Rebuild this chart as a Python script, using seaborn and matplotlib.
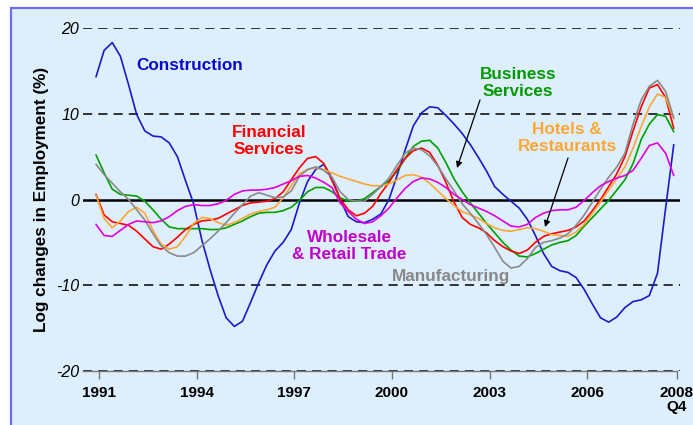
import numpy as np
import pandas as pd
import matplotlib
matplotlib.use("Agg")
import matplotlib.pyplot as plt
from matplotlib.patches import Rectangle
import seaborn as sns

# ---- data (quarterly, 1991Q1 .. 2008Q4) ----
start_year = 1991
construction = [14.3, 17.4, 18.3, 16.7, 13.4, 9.9, 8.0, 7.4, 7.3, 6.6, 5.0, 2.2,
                -0.5, -4.7, -8.1, -11.2, -13.8, -14.8, -14.2, -12.0, -9.7, -7.6, -6.0, -5.0,
                -3.5, -0.4, 2.1, 3.5, 4.1, 2.5, 0.0, -2.0, -2.6, -2.7, -2.3, -1.7,
                0.0, 2.8, 5.8, 8.6, 10.1, 10.8, 10.7, 9.8, 8.8, 7.7, 6.4, 4.9,
                3.3, 1.5, 0.6, -0.2, -1.0, -2.3, -4.2, -6.3, -7.8, -8.3, -8.5, -9.1,
                -10.5, -12.2, -13.8, -14.3, -13.7, -12.6, -11.9, -11.7, -11.2, -8.6, -1.0, 6.4]
business = [5.2, 3.1, 1.2, 0.6, 0.5, 0.4, -0.2, -1.2, -2.3, -3.2, -3.4, -3.4,
            -3.4, -3.4, -3.5, -3.5, -3.3, -2.9, -2.5, -2.0, -1.6, -1.5, -1.5, -1.3,
            -0.9, -0.1, 0.9, 1.4, 1.4, 0.9, 0.2, -0.2, -0.2, 0.1, 0.8, 1.5,
            2.2, 3.3, 4.8, 6.2, 6.8, 6.9, 6.0, 4.3, 2.4, 0.9, -0.4, -1.6,
            -2.8, -3.9, -5.0, -5.9, -6.6, -6.7, -6.3, -5.8, -5.3, -5.0, -4.8, -4.2,
            -3.1, -2.1, -1.1, -0.1, 1.1, 2.3, 4.2, 7.0, 8.8, 9.9, 9.7, 7.9]
financial = [0.6, -1.8, -2.6, -2.8, -3.0, -3.7, -4.6, -5.5, -5.8, -5.2, -4.4, -3.5,
             -2.9, -2.5, -2.4, -2.2, -1.7, -1.2, -0.7, -0.4, -0.3, -0.2, 0.1, 0.9,
             2.3, 3.7, 4.8, 5.0, 4.2, 2.2, 0.1, -1.2, -1.9, -1.6, -0.8, 0.7,
             2.0, 3.5, 4.8, 5.7, 6.0, 5.5, 4.0, 2.0, -0.3, -2.1, -2.9, -3.3,
             -3.9, -4.8, -5.5, -6.0, -6.3, -5.9, -5.0, -4.3, -4.0, -3.8, -3.6, -3.2,
             -2.5, -1.3, 0.0, 1.5, 3.0, 5.0, 8.0, 10.8, 13.0, 13.4, 11.9, 8.3]
hotels = [0.5, -2.2, -3.3, -2.5, -1.4, -0.9, -1.6, -3.6, -5.2, -5.8, -5.5, -4.3,
          -2.8, -2.1, -2.2, -2.7, -3.0, -2.7, -2.2, -1.7, -1.4, -1.2, -0.9, 0.2,
          1.6, 3.0, 3.5, 3.7, 3.5, 3.1, 2.7, 2.4, 2.1, 1.8, 1.6, 1.6,
          1.8, 2.3, 2.8, 2.9, 2.6, 1.9, 1.0, 0.1, -0.7, -1.4, -1.8, -2.2,
          -2.8, -3.3, -3.6, -3.7, -3.5, -3.3, -3.4, -3.7, -4.1, -4.2, -4.3, -3.8,
          -2.9, -1.6, -0.3, 1.1, 2.4, 3.8, 6.0, 8.5, 10.8, 12.3, 11.9, 9.4]
manufacturing = [4.1, 2.9, 1.9, 0.9, 0.0, -1.2, -2.4, -4.0, -5.4, -6.2, -6.6, -6.6,
                 -6.2, -5.4, -4.6, -3.7, -2.7, -1.6, -0.6, 0.4, 0.8, 0.5, 0.2, 0.3,
                 1.0, 2.7, 3.5, 3.8, 3.4, 2.6, 0.9, 0.0, -0.2, -0.2, 0.6, 1.5,
                 2.5, 4.0, 5.4, 6.0, 5.8, 5.1, 3.9, 2.4, 1.0, -0.5, -1.6, -2.8,
                 -4.1, -5.6, -7.2, -8.0, -7.8, -6.9, -5.6, -5.0, -4.8, -4.5, -4.0, -3.0,
                 -1.8, -0.3, 1.2, 2.6, 3.8, 5.4, 8.8, 11.6, 13.2, 13.9, 12.6, 9.5]
wholesale = [-2.9, -4.2, -4.3, -3.6, -2.9, -2.5, -2.6, -2.7, -2.5, -2.0, -1.3, -0.8,
             -0.6, -0.7, -0.7, -0.5, -0.1, 0.6, 1.0, 1.1, 1.1, 1.2, 1.4, 1.8,
             2.2, 2.7, 2.8, 2.5, 2.0, 1.4, -0.4, -1.4, -2.3, -2.8, -2.6, -1.9,
             -1.0, 0.2, 1.3, 2.1, 2.5, 2.4, 2.0, 1.4, 0.6, 0.0, -0.6, -1.0,
             -1.4, -1.9, -2.5, -3.1, -3.2, -2.9, -2.1, -1.6, -1.3, -1.2, -1.2, -0.9,
             -0.1, 0.8, 1.6, 2.1, 2.5, 2.8, 3.4, 4.8, 6.3, 6.6, 5.4, 2.8]

tick_years = [1991, 1994, 1997, 2000, 2003, 2006, 2008.75]
tick_labels = ["1991", "1994", "1997", "2000", "2003", "2006", "2008\nQ4"]
y_ticks = [-20, -10, 0, 10, 20]

series = {
    "Construction": construction,
    "Business Services": business,
    "Financial Services": financial,
    "Hotels & Restaurants": hotels,
    "Manufacturing": manufacturing,
    "Wholesale & Retail Trade": wholesale,
}
palette = {
    "Construction": "#1A1AC8",
    "Business Services": "#00A000",
    "Financial Services": "#FF0000",
    "Hotels & Restaurants": "#FFA634",
    "Manufacturing": "#8A8A8A",
    "Wholesale & Retail Trade": "#E000E0",
}
text_colors = {
    "Construction": "#0A0ACC",
    "Business Services": "#009A00",
    "Financial Services": "#FF0000",
    "Hotels & Restaurants": "#FFA634",
    "Manufacturing": "#888888",
    "Wholesale & Retail Trade": "#C000C8",
}

n = len(construction)
t = start_year + np.arange(n) / 4.0
df = pd.concat([pd.DataFrame({"t": t, "value": v, "series": k}) for k, v in series.items()],
               ignore_index=True)

sns.set_style("white")
plt.rcParams["font.family"] = ["Liberation Sans", "DejaVu Sans"]

W, H = 693, 425
fig = plt.figure(figsize=(W / 100, H / 100), dpi=100)
fig.patch.set_facecolor("white")
frame = Rectangle((10.5 / W, -0.05), 1.2, (H - 7.5) / H + 0.05,
                  transform=fig.transFigure, facecolor="#DDEEFD",
                  edgecolor="#6F6FF5", linewidth=1.6, zorder=-10)
fig.patches.append(frame)

ax = fig.add_axes([83 / W, 54 / H, 597 / W, 343 / H])
ax.set_zorder(1)
ax.patch.set_alpha(0)

px_per_year = 32.55
x_left = start_year - (96 - 83) / px_per_year
x_right = start_year + (680 - 96) / px_per_year
tick_off = 3 / px_per_year

sns.lineplot(data=df, x="t", y="value", hue="series", palette=palette,
             hue_order=list(series.keys()), linewidth=1.2, legend=False, ax=ax, zorder=3)

# reference lines
for yv in [20, 10, -10, -20]:
    ax.axhline(yv, color="black", lw=1.1, dashes=(6, 4), zorder=2)
ax.axhline(0, color="black", lw=1.8, zorder=2)

ax.set_xlim(x_left, x_right)
ax.set_ylim(-20, 20)
for s in ["top", "right", "left"]:
    ax.spines[s].set_visible(False)
ax.spines["bottom"].set_color("#777777")
ax.spines["bottom"].set_linewidth(1.0)
ax.spines["bottom"].set_bounds(x_left, tick_years[-1] + tick_off)

ax.set_xticks([y + tick_off for y in tick_years])
ax.set_xticklabels(tick_labels, fontsize=11, fontweight="bold", linespacing=1.0)
ax.tick_params(axis="x", direction="out", length=6, width=1.0, color="#777777", pad=5,
               bottom=True, labelcolor="black")
ax.set_yticks(y_ticks)
ax.set_yticklabels([str(v) for v in y_ticks], fontsize=11.5, fontstyle="italic")
ax.tick_params(axis="y", length=0, pad=3, labelcolor="black")
ax.set_xlabel("")
ax.set_ylabel("Log changes in Employment (%)", fontsize=12.3, fontweight="bold",
              labelpad=5, color="black")
ax.grid(False)


def px2data(xp, yp):
    return start_year + (xp - 96) / px_per_year, (199.5 - yp) / 8.575


labels = [
    ("Construction", "Construction", 190, 66),
    ("Financial Services", "Financial\nServices", 269, 141),
    ("Business Services", "Business\nServices", 518, 83),
    ("Hotels & Restaurants", "Hotels &\nRestaurants", 567, 138),
    ("Wholesale & Retail Trade", "Wholesale\n& Retail Trade", 349, 246),
    ("Manufacturing", "Manufacturing", 451, 277),
]
for key, txt, xp, yp in labels:
    xd, yd = px2data(xp, yp)
    ax.text(xd, yd, txt, color=text_colors[key], fontsize=12.3, fontweight="bold",
            ha="center", va="center", linespacing=1.1, zorder=5)

for (x0, y0, x1, y1) in [(480, 100, 457, 168), (568, 158, 545, 227)]:
    ax.annotate("", xy=px2data(x1, y1), xytext=px2data(x0, y0),
                arrowprops=dict(arrowstyle="-|>", color="black", lw=0.9,
                                mutation_scale=9, shrinkA=0, shrinkB=0), zorder=6)

fig.savefig("out.png", dpi=100, facecolor=fig.get_facecolor())
